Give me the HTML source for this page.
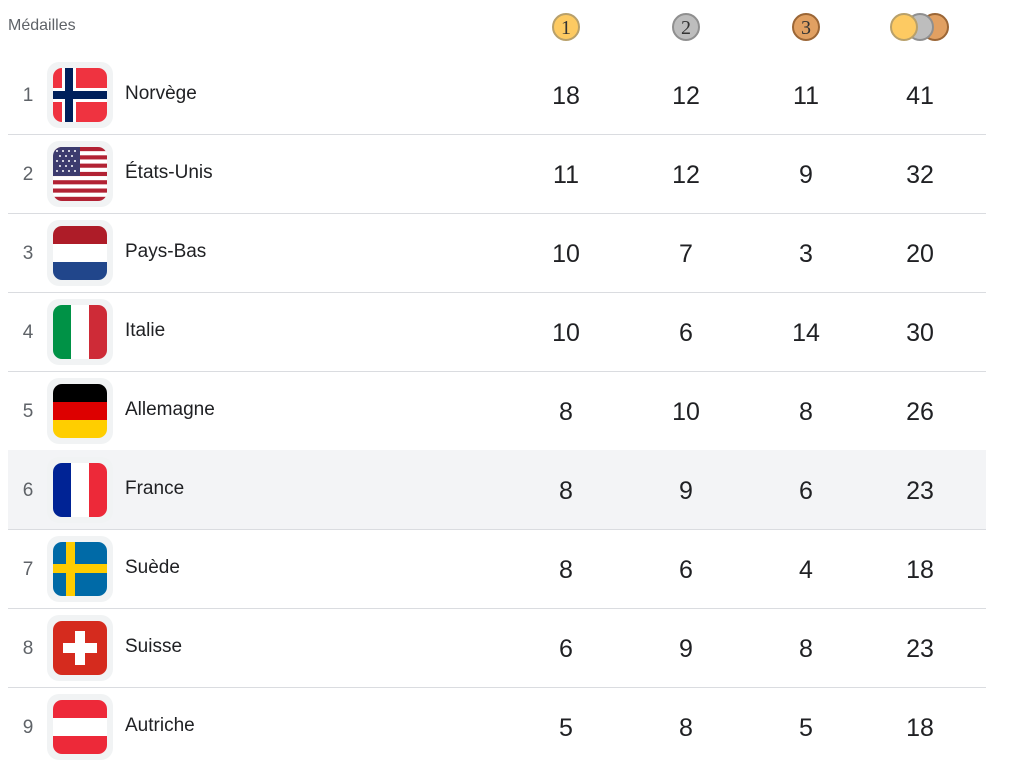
<!DOCTYPE html>
<html><head><meta charset="utf-8"><style>
body{margin:0;width:1010px;height:765px;background:#fff;font-family:"Liberation Sans",Arial,sans-serif;position:relative;overflow:hidden}
.a{position:absolute}
.hd{left:8px;top:17px;font-size:16px;color:#5f6368}
.row{position:absolute;left:8px;width:978px;height:79px;border-bottom:1px solid #dadce0}
.rk{position:absolute;left:14px;width:12px;font-size:19px;color:#5f6368;text-align:center}
.fb{position:absolute;left:39px;width:66px;height:66px;border-radius:12px;background:#f1f3f4}
.fb svg{position:absolute;left:6px;top:6px}
.nm{position:absolute;left:117px;font-size:19px;color:#202124}
.n{position:absolute;width:80px;text-align:center;font-size:25px;color:#202124}
.med{position:absolute;top:13px;width:28px;height:28px;border-radius:50%;box-sizing:border-box;text-align:center;font-family:"Liberation Serif",serif;font-size:20px;line-height:26px;color:#333}
</style></head><body>
<div class="a hd">Médailles</div>
<div class="med" style="left:552px;background:#fdca62;border:2px solid #b8a06a">1</div>
<div class="med" style="left:672px;background:#bdbdbd;border:2px solid #8f8f8f">2</div>
<div class="med" style="left:792px;background:#e1a062;border:2px solid #9b6636">3</div>
<div class="med" style="left:921px;background:#e1a062;border:2px solid #9b6636"></div>
<div class="med" style="left:906px;background:#bdbdbd;border:2px solid #8f8f8f"></div>
<div class="med" style="left:890px;background:#fdca62;border:2px solid #b8a06a"></div>

<svg width="0" height="0" style="position:absolute"><defs><clipPath id="c"><rect width="54" height="54" rx="9"/></clipPath></defs></svg>

<div class="row" style="top:55px">
<div class="rk" style="top:30px">1</div>
<div class="fb" style="top:7px"><svg width="54" height="54"><g clip-path="url(#c)"><rect width="54" height="54" fill="#ef3340"/><rect x="9" width="14" height="54" fill="#fff"/><rect y="20" width="54" height="14" fill="#fff"/><rect x="12" width="8" height="54" fill="#00205b"/><rect y="23" width="54" height="8" fill="#00205b"/></g></svg></div>
<div class="nm" style="top:28px">Norvège</div>
<div class="n" style="left:518px;top:27px">18</div><div class="n" style="left:638px;top:27px">12</div><div class="n" style="left:758px;top:27px">11</div><div class="n" style="left:872px;top:27px">41</div>
</div>

<div class="row" style="top:134px">
<div class="rk" style="top:30px">2</div>
<div class="fb" style="top:7px"><svg width="54" height="54"><g clip-path="url(#c)"><rect width="54" height="54" fill="#fff"/>
<g fill="#b22234"><rect y="0" width="54" height="4.15"/><rect y="8.3" width="54" height="4.15"/><rect y="16.6" width="54" height="4.15"/><rect y="24.9" width="54" height="4.15"/><rect y="33.2" width="54" height="4.15"/><rect y="41.5" width="54" height="4.15"/><rect y="49.8" width="54" height="4.2"/></g>
<rect width="27" height="29" fill="#3c3b6e"/>
<g fill="#fff"><circle cx="4" cy="4" r="1"/><circle cx="10" cy="4" r="1"/><circle cx="16" cy="4" r="1"/><circle cx="22" cy="4" r="1"/><circle cx="7" cy="9" r="1"/><circle cx="13" cy="9" r="1"/><circle cx="19" cy="9" r="1"/><circle cx="4" cy="14" r="1"/><circle cx="10" cy="14" r="1"/><circle cx="16" cy="14" r="1"/><circle cx="22" cy="14" r="1"/><circle cx="7" cy="19" r="1"/><circle cx="13" cy="19" r="1"/><circle cx="19" cy="19" r="1"/><circle cx="4" cy="24" r="1"/><circle cx="10" cy="24" r="1"/><circle cx="16" cy="24" r="1"/><circle cx="22" cy="24" r="1"/></g></g></svg></div>
<div class="nm" style="top:28px">États-Unis</div>
<div class="n" style="left:518px;top:27px">11</div><div class="n" style="left:638px;top:27px">12</div><div class="n" style="left:758px;top:27px">9</div><div class="n" style="left:872px;top:27px">32</div>
</div>

<div class="row" style="top:213px">
<div class="rk" style="top:30px">3</div>
<div class="fb" style="top:7px"><svg width="54" height="54"><g clip-path="url(#c)"><rect width="54" height="18" fill="#ae1c28"/><rect y="18" width="54" height="18" fill="#fff"/><rect y="36" width="54" height="18" fill="#21468b"/></g></svg></div>
<div class="nm" style="top:28px">Pays-Bas</div>
<div class="n" style="left:518px;top:27px">10</div><div class="n" style="left:638px;top:27px">7</div><div class="n" style="left:758px;top:27px">3</div><div class="n" style="left:872px;top:27px">20</div>
</div>

<div class="row" style="top:292px">
<div class="rk" style="top:30px">4</div>
<div class="fb" style="top:7px"><svg width="54" height="54"><g clip-path="url(#c)"><rect width="18" height="54" fill="#009246"/><rect x="18" width="18" height="54" fill="#fff"/><rect x="36" width="18" height="54" fill="#ce2b37"/></g></svg></div>
<div class="nm" style="top:28px">Italie</div>
<div class="n" style="left:518px;top:27px">10</div><div class="n" style="left:638px;top:27px">6</div><div class="n" style="left:758px;top:27px">14</div><div class="n" style="left:872px;top:27px">30</div>
</div>

<div class="row" style="top:371px">
<div class="rk" style="top:30px">5</div>
<div class="fb" style="top:7px"><svg width="54" height="54"><g clip-path="url(#c)"><rect width="54" height="18" fill="#000"/><rect y="18" width="54" height="18" fill="#dd0000"/><rect y="36" width="54" height="18" fill="#ffce00"/></g></svg></div>
<div class="nm" style="top:28px">Allemagne</div>
<div class="n" style="left:518px;top:27px">8</div><div class="n" style="left:638px;top:27px">10</div><div class="n" style="left:758px;top:27px">8</div><div class="n" style="left:872px;top:27px">26</div>
</div>

<div class="row" style="top:450px;background:#f3f4f6">
<div class="rk" style="top:30px">6</div>
<div class="fb" style="top:7px"><svg width="54" height="54"><g clip-path="url(#c)"><rect width="18" height="54" fill="#002395"/><rect x="18" width="18" height="54" fill="#fff"/><rect x="36" width="18" height="54" fill="#ed2939"/></g></svg></div>
<div class="nm" style="top:28px">France</div>
<div class="n" style="left:518px;top:27px">8</div><div class="n" style="left:638px;top:27px">9</div><div class="n" style="left:758px;top:27px">6</div><div class="n" style="left:872px;top:27px">23</div>
</div>

<div class="row" style="top:529px">
<div class="rk" style="top:30px">7</div>
<div class="fb" style="top:7px"><svg width="54" height="54"><g clip-path="url(#c)"><rect width="54" height="54" fill="#006aa7"/><rect x="13" width="9" height="54" fill="#fecc00"/><rect y="22" width="54" height="9" fill="#fecc00"/></g></svg></div>
<div class="nm" style="top:28px">Suède</div>
<div class="n" style="left:518px;top:27px">8</div><div class="n" style="left:638px;top:27px">6</div><div class="n" style="left:758px;top:27px">4</div><div class="n" style="left:872px;top:27px">18</div>
</div>

<div class="row" style="top:608px">
<div class="rk" style="top:30px">8</div>
<div class="fb" style="top:7px"><svg width="54" height="54"><g clip-path="url(#c)"><rect width="54" height="54" fill="#d52b1e"/><rect x="22" y="10" width="10" height="34" fill="#fff"/><rect x="10" y="22" width="34" height="10" fill="#fff"/></g></svg></div>
<div class="nm" style="top:28px">Suisse</div>
<div class="n" style="left:518px;top:27px">6</div><div class="n" style="left:638px;top:27px">9</div><div class="n" style="left:758px;top:27px">8</div><div class="n" style="left:872px;top:27px">23</div>
</div>

<div class="row" style="top:687px;border-bottom:none">
<div class="rk" style="top:30px">9</div>
<div class="fb" style="top:7px"><svg width="54" height="54"><g clip-path="url(#c)"><rect width="54" height="18" fill="#ed2939"/><rect y="18" width="54" height="18" fill="#fff"/><rect y="36" width="54" height="18" fill="#ed2939"/></g></svg></div>
<div class="nm" style="top:28px">Autriche</div>
<div class="n" style="left:518px;top:27px">5</div><div class="n" style="left:638px;top:27px">8</div><div class="n" style="left:758px;top:27px">5</div><div class="n" style="left:872px;top:27px">18</div>
</div>
</body></html>
